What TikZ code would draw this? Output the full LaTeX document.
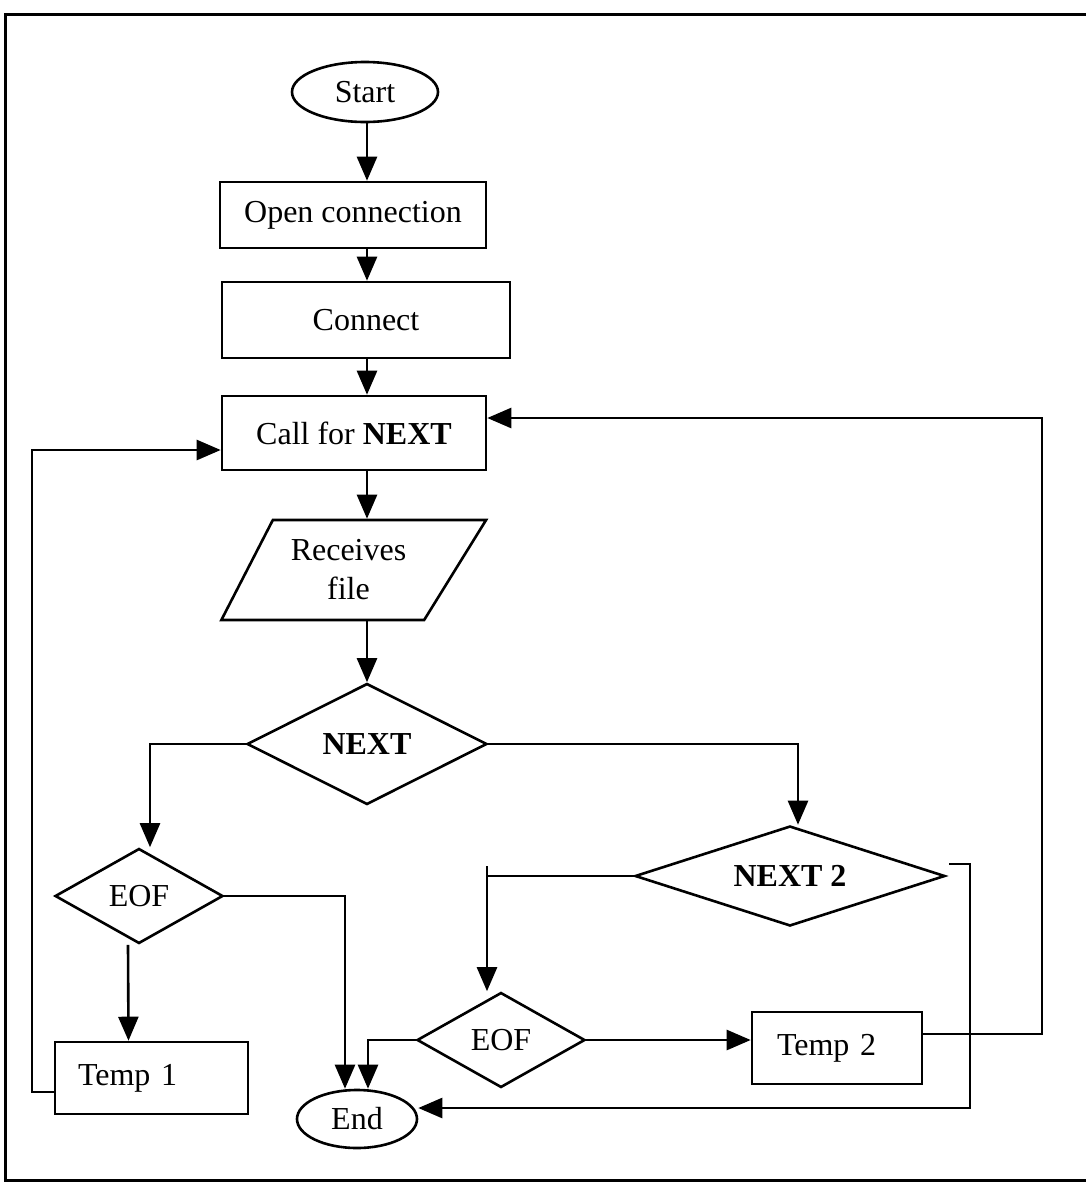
\documentclass[tikz,border=0pt]{standalone}
\usepackage{fontspec}
\setmainfont{Liberation Serif}
\usetikzlibrary{shapes.geometric,arrows.meta,calc}
\tikzset{
  base/.style={draw, line width=2.6pt, inner sep=0pt, font=\fontsize{32}{39}\selectfont},
  procbox/.style={base, rectangle},
  decbox/.style={base, diamond},
  termbox/.style={base, ellipse},
  iobox/.style={base, trapezium, trapezium left angle=57, trapezium right angle=128, trapezium stretches=true},
  conn/.style={line width=2.6pt},
  arr/.style={conn, -{Triangle[length=24pt,width=20pt]}},
  frameline/.style={line width=3pt}
}
\begin{document}
\begin{tikzpicture}[x=1pt,y=-1pt]
\useasboundingbox (0,0) rectangle (1086,1184);
\draw[frameline] (1086,14) -- (5,14) -- (5,1180) -- (1086,1180);

\node[termbox, minimum width=146, minimum height=60] (start) at (365,92) {Start};
\node[procbox, minimum width=266, minimum height=66] (open) at (353,215) {Open connection};
\node[procbox, minimum width=288, minimum height=76] (cnct) at (366,320) {Connect};
\node[procbox, minimum width=264, minimum height=74] (call) at (354,433) {Call for \textbf{NEXT}};
\node[iobox, minimum width=265, minimum height=100, align=center] (recv) at (348.5,570) {Receives\\file};
\node[decbox, aspect=2, minimum width=240, minimum height=121] (next) at (367,744) {\textbf{NEXT}};
\node[decbox, aspect=1.8, minimum width=168, minimum height=95] (eofa) at (139,896) {EOF};
\node[procbox, minimum width=193, minimum height=72, inner xsep=23pt, text width=147pt, align=left] (tempa) at (151.5,1078) {Temp 1};
\node[termbox, minimum width=120, minimum height=58] (end) at (357,1119) {End};
\node[decbox, aspect=3.1, minimum width=310, minimum height=100] (nexb) at (790,876) {\textbf{NEXT 2}};
\node[decbox, aspect=1.8, minimum width=168, minimum height=95] (eofb) at (501,1040) {EOF};
\node[procbox, minimum width=170, minimum height=72, inner xsep=25pt, text width=120pt, align=left] (tempb) at (837,1048) {Temp 2};

\coordinate (lb) at (32,450);
\coordinate (rt) at (1042,418);
\coordinate (rb) at (970,1108);
\coordinate (stub) at (487,866);

\draw[arr] (start.south -| next.north) -- (open.north -| next.north);
\draw[arr] (open.south -| next.north) -- (cnct.north -| next.north);
\draw[arr] (cnct.south -| next.north) -- (call.north -| next.north);
\draw[arr] (call.south -| next.north) -- (recv.north -| next.north);
\draw[arr] (recv.south -| next.north) -- (next.north);

\draw[arr] (next.west) -| ($(eofa.north)+(11,0)$);
\draw[arr] ($(eofa.south)+(-11,0)$) -- ($(tempa.north)+(-23,0)$);
\draw[arr] ($(tempa.west)+(0,14)$) -| (lb) -- (lb -| call.west);
\draw[arr] (eofa.east) -| ($(end.north)+(-12,0)$);

\draw[arr] (next.east) -| ($(nexb.north)+(8,0)$);
\draw[arr] (nexb.west) -| ($(eofb.north)+(-14,0)$);
\draw[conn] (stub) -- (stub |- nexb.west);
\draw[arr] (eofb.west) -| ($(end.north)+(11,0)$);
\draw[arr] (eofb.east) -- (eofb.east -| tempb.west);
\draw[arr] ($(tempb.east)+(0,-14)$) -| (rt) -- (rt -| call.east);
\draw[arr] ($(nexb.east)+(3,-12)$) -| (rb) -- (rb -| end.east);
\end{tikzpicture}
\end{document}
